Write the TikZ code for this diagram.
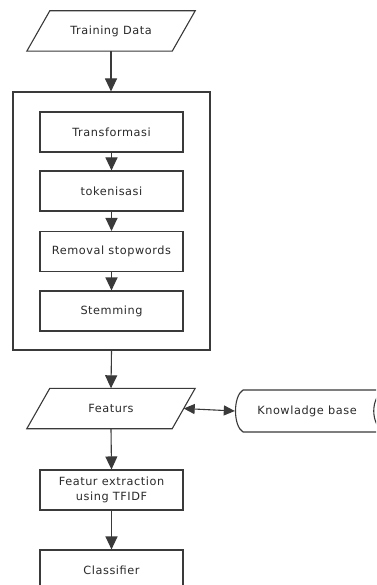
\documentclass[tikz,border=0pt]{standalone}
\usepackage{fontspec}
\setmainfont{DejaVu Sans}[LetterSpace=5]
\usetikzlibrary{arrows.meta}
\definecolor{ln}{HTML}{3A3A3A}
\definecolor{tx}{HTML}{2A2A2A}
\begin{document}
\begin{tikzpicture}[x=1pt,y=-1pt,
  every node/.style={font=\fontsize{11.3}{15}\selectfont, text=tx},
  proc/.style={draw=ln, line width=1.1pt, rectangle, minimum width=143pt, minimum height=40pt, inner sep=0pt, align=center},
  parabox/.style={rectangle, minimum width=145pt, minimum height=40pt, inner sep=0pt},
  outline/.style={draw=ln, line width=1.1pt},
  conn/.style={draw=ln, line width=1.1pt, -{Triangle[length=13pt,width=12pt]}},
  dconn/.style={draw=ln, line width=1.1pt, {Triangle[length=11pt,width=10pt]}-{Triangle[length=11pt,width=10pt]}}
]
\useasboundingbox (0,0) rectangle (376,585);
\fill[white] (0,0) rectangle (376,585);
\begin{scope}
\clip (0,0) rectangle (376,585);
\node[parabox] (train) at (111,31) {Training Data};
\draw[outline] ([xshift=11.5pt]train.north west) -- ([xshift=11.5pt]train.north east) --
      ([xshift=-11.5pt]train.south east) -- ([xshift=-11.5pt]train.south west) -- cycle;
\node[draw=ln, line width=1.1pt, rectangle, minimum width=197pt, minimum height=258pt, inner sep=0pt] (pre) at (111.5,221) {};
\node[proc] (trans) at (111.5,132) {Transformasi};
\node[proc] (tok) at (111.5,191) {tokenisasi};
\node[proc] (rem) at (111.5,251.5) {Removal stopwords};
\node[proc] (stem) at (111.5,311) {Stemming};
\node[parabox] (feat) at (111,408.5) {Featurs};
\draw[outline] ([xshift=11.5pt]feat.north west) -- ([xshift=11.5pt]feat.north east) --
      ([xshift=-11.5pt]feat.south east) -- ([xshift=-11.5pt]feat.south west) -- cycle;
\node[minimum width=150pt, minimum height=42pt, inner sep=0pt] (kb) at (310,411) {};
\draw[outline] (243,390) .. controls (233,396) and (233,426) .. (243,432);
\draw[outline] (243,390) -- (385,390) .. controls (370,396) and (370,426) .. (385,432) -- (243,432);
\node at (307,411) {Knowladge base};
\node[proc] (fext) at (111.5,490) {Featur extraction\\using TFIDF};
\node[proc] (cls) at (111.5,570) {Classifier};
\draw[conn] (train.south) -- (train.south |- pre.north);
\draw[conn] (trans) -- (tok);
\draw[conn] (tok) -- (rem);
\draw[conn] (rem) -- (stem);
\draw[conn] (pre.south) -- (feat.north);
\draw[dconn] (feat.east) -- (kb.west);
\draw[conn] (feat.south) -- (fext.north);
\draw[conn] (fext) -- (cls);
\end{scope}
\end{tikzpicture}
\end{document}
